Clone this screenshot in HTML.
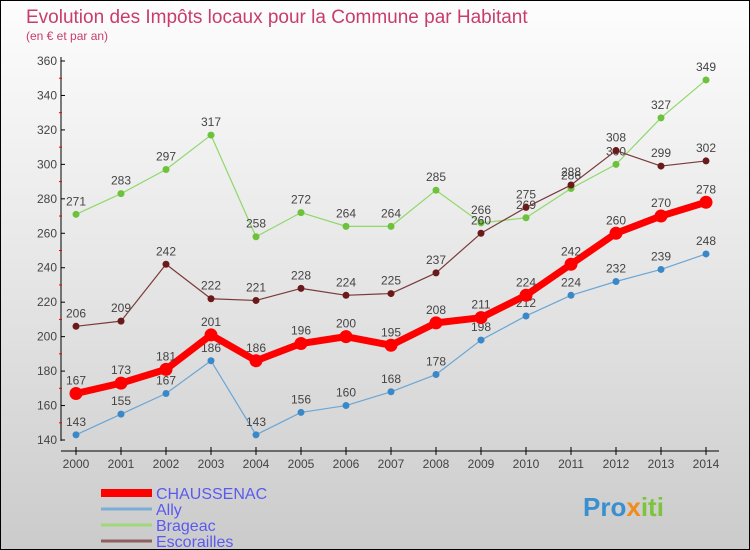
<!DOCTYPE html>
<html><head><meta charset="utf-8"><style>
body{margin:0;}
#wrap{width:748px;height:548px;border:1px solid #000;background:linear-gradient(#fdfdfd,#e6e6e6 50%,#cbcbcb);position:relative;overflow:hidden;font-family:"Liberation Sans",sans-serif;}
svg text{font-family:"Liberation Sans",sans-serif;}
</style></head><body>
<div id="wrap">
<svg id="chart" width="748" height="548">
<text x="25" y="22" font-size="19" fill="#c83c6e">Evolution des Impôts locaux pour la Commune par Habitant</text>
<text x="25" y="39" font-size="12" fill="#c83c6e">(en € et par an)</text>
<g id="axes"></g><g id="series"></g><g id="legend"></g>
<text x="582" y="515" font-size="26" font-weight="bold" fill="#3a8fd0">Pro<tspan fill="#f08c1e">x</tspan><tspan fill="#7cc43c">iti</tspan></text>
</svg>
</div>
<script>
const years=[2000,2001,2002,2003,2004,2005,2006,2007,2008,2009,2010,2011,2012,2013,2014];
const yTicks=[140,160,180,200,220,240,260,280,300,320,340,360];
const chaussenac=[167,173,181,201,186,196,200,195,208,211,224,242,260,270,278];
const ally=[143,155,167,186,143,156,160,168,178,198,212,224,232,239,248];
const brageac=[271,283,297,317,258,272,264,264,285,266,269,286,300,327,349];
const escorailles=[206,209,242,222,221,228,224,225,237,260,275,288,308,299,302];
const NS="http://www.w3.org/2000/svg";
const X=i=>75+i*45, Y=v=>439-(v-140)*(379/220);
function mk(t,a,p){const e=document.createElementNS(NS,t);for(const k in a)e.setAttribute(k,a[k]);p.appendChild(e);return e;}
const ax=document.getElementById('axes');
let l=mk('line',{x1:60,y1:56,x2:60,y2:440,stroke:'#000','stroke-width':1},ax);


l=mk('line',{x1:60,y1:450,x2:718,y2:450,stroke:'#000','stroke-width':1},ax);


yTicks.forEach((v,i)=>{const y=Y(v);
 mk('line',{x1:60,y1:y,x2:64,y2:y,stroke:'#000'},ax);
 if(i<yTicks.length-1)mk('line',{x1:58,y1:Y(v+10),x2:61,y2:Y(v+10),stroke:'#e00'},ax);
 const t=mk('text',{x:56,y:y+4,'font-size':12,fill:'#444','text-anchor':'end'},ax);t.textContent=v;
 
 });
years.forEach((yr,i)=>{const x=X(i);
 mk('line',{x1:x,y1:446,x2:x,y2:454,stroke:'#000'},ax);
 const t=mk('text',{x:x,y:467,'font-size':12,fill:'#444','text-anchor':'middle'},ax);t.textContent=yr;
 
 });
const sg=document.getElementById('series');
function draw(name,data,color,dot,w,r){
 const g=mk('g',{},sg);
 
 
 mk('polyline',{points:data.map((v,i)=>X(i)+','+Y(v)).join(' '),fill:'none',stroke:color,'stroke-width':w,'stroke-linejoin':'round'},g);
 data.forEach((v,i)=>{const c=mk('circle',{cx:X(i),cy:Y(v),r:r,fill:dot},g);
  
  
  const t=mk('text',{x:X(i),y:Y(v)-9,'font-size':12,fill:'#444','text-anchor':'middle'},g);t.textContent=v;
  
  });
}
draw('brageac',brageac,'#8fd86a','#6cc23a',1.2,3.5);
draw('escorailles',escorailles,'#7a3a3a','#6a1a1a',1.2,3.5);
draw('ally',ally,'#6aa6d6','#3a88c8',1.2,3.5);
draw('chaussenac',chaussenac,'#f00','#f00',7,6.5);
const lg=document.getElementById('legend');
const leg=[['CHAUSSENAC','#f00',8],['Ally','#7aaed8',3],['Brageac','#9ed87a',3],['Escorailles','#906060',3]];
leg.forEach((d,i)=>{const y=492+i*16;
 const g=mk('g',{},lg);
 
 
 mk('line',{x1:100,y1:y,x2:151,y2:y,stroke:d[1],'stroke-width':d[2]},g);
 const t=mk('text',{x:155,y:y+6,'font-size':16,fill:'#5a5af0'},g);t.textContent=d[0];});
</script>
</body></html>
